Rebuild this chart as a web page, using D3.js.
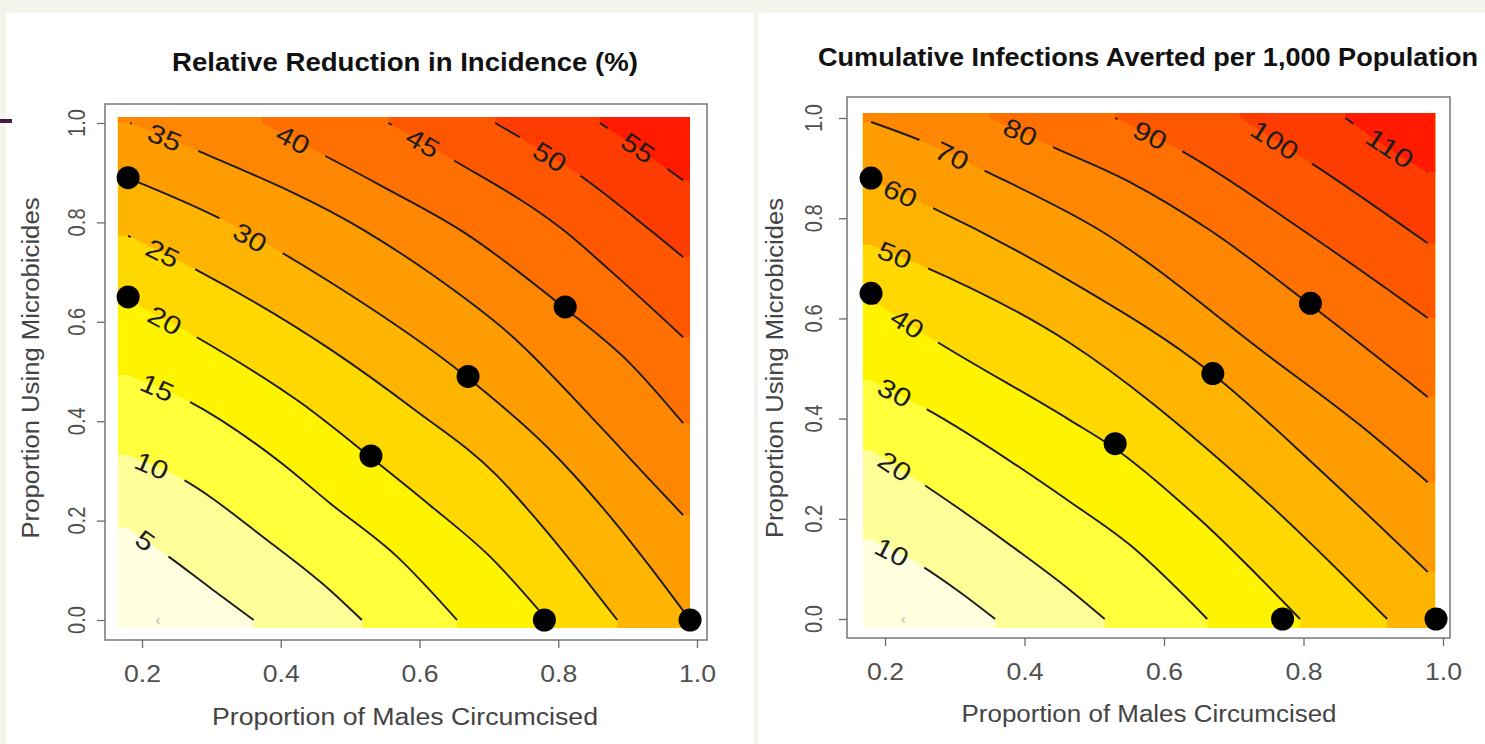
<!DOCTYPE html>
<html>
<head>
<meta charset="utf-8">
<script src="https://cdnjs.cloudflare.com/ajax/libs/d3/7.8.5/d3.min.js"></script>
<style>
    body { margin: 0; background: #f4f4ec; }
    svg { display: block; }
    text { font-family: "Liberation Sans", Arial, Helvetica, sans-serif; }
</style>
</head>
<body>
<svg id="chart" width="1485" height="744"></svg>
<script>
// values (x = males circumcised, y = using microbicides)
var tickValues = [0.2, 0.4, 0.6, 0.8, 1.0];

var reductionLevels = [5, 10, 15, 20, 25, 30, 35, 40, 45, 50, 55];
var reductionContours = [
    [[0.18, 0.185], [0.237, 0.129], [0.299, 0.064], [0.361, 0]],
    [[0.18, 0.332], [0.255, 0.286], [0.38, 0.161], [0.471, 0.06], [0.517, 0]],
    [[0.18, 0.493], [0.269, 0.439], [0.399, 0.318], [0.471, 0.235], [0.568, 0.127], [0.654, 0]],
    [[0.18, 0.644], [0.279, 0.569], [0.428, 0.438], [0.529, 0.328], [0.615, 0.231], [0.702, 0.127], [0.784, 0]],
    [[0.18, 0.773], [0.279, 0.704], [0.471, 0.545], [0.591, 0.425], [0.712, 0.29], [0.77, 0.2], [0.885, 0]],
    [[0.18, 0.889], [0.312, 0.808], [0.471, 0.68], [0.668, 0.489], [0.784, 0.348], [0.879, 0.201], [0.928, 0.115], [0.99, 0]],
    [[0.183, 1.0], [0.284, 0.942], [0.519, 0.785], [0.615, 0.698], [0.735, 0.569], [0.856, 0.396], [0.928, 0.288], [0.98, 0.211]],
    [[0.373, 1.0], [0.543, 0.875], [0.663, 0.781], [0.807, 0.63], [0.903, 0.517], [0.98, 0.396]],
    [[0.555, 1.0], [0.648, 0.926], [0.807, 0.785], [0.879, 0.698], [0.98, 0.569]],
    [[0.709, 1.0], [0.831, 0.895], [0.932, 0.785], [0.98, 0.73]],
    [[0.86, 1.0], [0.95, 0.915], [0.98, 0.885]]
];
var reductionLabelPos = [
    [0.205, 0.16], [0.214, 0.311], [0.222, 0.468], [0.233, 0.603], [0.23, 0.738], [0.356, 0.77],
    [0.233, 0.971], [0.418, 0.967], [0.605, 0.96], [0.788, 0.932], [0.915, 0.95]
];
var reductionScenarios = [[0.18, 0.89], [0.18, 0.65], [0.53, 0.33], [0.67, 0.49], [0.81, 0.63], [0.78, 0], [0.99, 0]];

var avertedLevels = [10, 20, 30, 40, 50, 60, 70, 80, 90, 100, 110];
var avertedContours = [
    [[0.18, 0.158], [0.25, 0.108], [0.305, 0.056], [0.358, 0]],
    [[0.18, 0.337], [0.257, 0.267], [0.389, 0.138], [0.465, 0.058], [0.515, 0]],
    [[0.18, 0.477], [0.257, 0.421], [0.465, 0.234], [0.551, 0.148], [0.662, 0]],
    [[0.18, 0.637], [0.275, 0.553], [0.465, 0.397], [0.53, 0.34], [0.652, 0.198], [0.795, 0]],
    [[0.18, 0.747], [0.257, 0.703], [0.465, 0.551], [0.705, 0.287], [0.92, 0]],
    [[0.18, 0.876], [0.269, 0.82], [0.465, 0.675], [0.666, 0.493], [0.824, 0.297], [0.978, 0.094]],
    [[0.18, 0.992], [0.26, 0.95], [0.341, 0.896], [0.508, 0.776], [0.752, 0.523], [0.881, 0.387], [0.978, 0.273]],
    [[0.35, 1.0], [0.441, 0.942], [0.551, 0.872], [0.666, 0.776], [0.806, 0.631], [0.978, 0.443]],
    [[0.53, 1.0], [0.623, 0.936], [0.799, 0.776], [0.978, 0.601]],
    [[0.709, 1.0], [0.809, 0.912], [0.978, 0.75]],
    [[0.86, 1.0], [0.97, 0.898], [0.978, 0.892]]
];
var avertedLabelPos = [
    [0.21, 0.134], [0.214, 0.305], [0.214, 0.452], [0.232, 0.59], [0.214, 0.727], [0.222, 0.85],
    [0.296, 0.925], [0.394, 0.972], [0.58, 0.966], [0.759, 0.956], [0.924, 0.94]
];
var avertedScenarios = [[0.18, 0.88], [0.18, 0.65], [0.53, 0.35], [0.67, 0.49], [0.81, 0.63], [0.77, 0], [0.99, 0]];

var heat = d3.scaleLinear()
    .domain([0, 0.042, 0.125, 0.208, 0.29, 0.375, 0.458, 0.54, 0.625, 0.708, 0.79, 0.875, 0.958, 1])
    .range(["#ffffee", "#ffffe0", "#ffff9a", "#ffff3c", "#fff500", "#ffd800", "#ffb400",
        "#ff9c00", "#ff8600", "#ff7000", "#ff5800", "#ff3c00", "#ff1a00", "#ff0000"]);

var svg = d3.select("#chart");
svg.append("rect").attr("width", 1485).attr("height", 744).attr("fill", "#f4f4ec");
svg.append("rect").attr("x", 6).attr("y", 13).attr("width", 748).attr("height", 731).attr("fill", "#fff");
svg.append("rect").attr("x", 758).attr("y", 13).attr("width", 727).attr("height", 731).attr("fill", "#fff");
svg.append("rect").attr("x", 0).attr("y", 119).attr("width", 12).attr("height", 4).attr("fill", "#4a1a44");

drawPanel({
    id: "left", title: "Relative Reduction in Incidence (%)",
    box: [105, 104, 707, 640], xRange: [142, 697], yRange: [620, 123],
    fill: {x0: 0.165, x1: 0.99, y0: -0.016, y1: 1.012},
    titleX: 405, titleY: 71, titleLen: 466,
    xLabelX: 405, xLabelY: 725, xLabelLen: 386,
    yLabelX: 39, yLabelY: 368, yLabelLen: 341,
    xTickY: 682, yTickX: 85,
    levels: reductionLevels, contours: reductionContours, labels: reductionLabelPos,
    dots: reductionScenarios, zeroMark: [0.223, 0]
});

drawPanel({
    id: "right", title: "Cumulative Infections Averted per 1,000 Population",
    box: [847, 97, 1450, 638], xRange: [885, 1443], yRange: [619, 118],
    fill: {x0: 0.168, x1: 0.989, y0: -0.018, y1: 1.01},
    titleX: 1148, titleY: 66, titleLen: 660,
    xLabelX: 1149, xLabelY: 722, xLabelLen: 375,
    yLabelX: 783, yLabelY: 368, yLabelLen: 340,
    xTickY: 680, yTickX: 822,
    levels: avertedLevels, contours: avertedContours, labels: avertedLabelPos,
    dots: avertedScenarios, zeroMark: [0.226, 0]
});

function drawPanel(cfg) {
    var x = d3.scaleLinear().domain([0.2, 1.0]).range(cfg.xRange);
    var y = d3.scaleLinear().domain([0, 1]).range(cfg.yRange);
    var f = cfg.fill;
    var step = cfg.levels[1] - cfg.levels[0];
    var top = step * (cfg.levels.length + 1);

    var line = d3.line()
        .x(function (d) { return x(d[0]); })
        .y(function (d) { return y(d[1]); })
        .curve(d3.curveMonotoneX);

    var defs = svg.append("defs");
    defs.append("clipPath").attr("id", "clip-" + cfg.id)
        .append("rect")
        .attr("x", x(f.x0)).attr("y", y(f.y1))
        .attr("width", x(f.x1) - x(f.x0)).attr("height", y(f.y0) - y(f.y1));

    var g = svg.append("g");

    // filled bands, lowest first
    var bands = g.append("g").attr("clip-path", "url(#clip-" + cfg.id + ")");
    bands.append("rect")
        .attr("x", x(f.x0)).attr("y", y(f.y1))
        .attr("width", x(f.x1) - x(f.x0)).attr("height", y(f.y0) - y(f.y1))
        .attr("fill", heat((step / 2) / top));

    cfg.contours.forEach(function (pts, i) {
        var s = pts[0], e = pts[pts.length - 1];
        var tail = [];
        if (e[1] <= 0.001) {
            tail.push([e[0], f.y0], [f.x1, f.y0]);
        } else {
            tail.push([f.x1, e[1]]);
        }
        tail.push([f.x1, f.y1]);
        if (s[0] <= 0.185) {
            tail.push([f.x0, f.y1], [f.x0, s[1]]);
        } else {
            tail.push([s[0], f.y1]);
        }
        var d = line(pts) + tail.map(function (p) {
            return "L" + x(p[0]) + "," + y(p[1]);
        }).join("") + "Z";
        bands.append("path")
            .attr("d", d)
            .attr("fill", heat((cfg.levels[i] + step / 2) / top));
    });

    // label positions and gaps in the lines
    var mask = defs.append("mask").attr("id", "mask-" + cfg.id)
        .attr("maskUnits", "userSpaceOnUse")
        .attr("x", 0).attr("y", 0).attr("width", 1485).attr("height", 744);
    mask.append("rect").attr("width", 1485).attr("height", 744).attr("fill", "#fff");

    var labelInfo = cfg.labels.map(function (p, i) {
        var px = x(p[0]), py = y(p[1]);
        var screen = cfg.contours[i].map(function (q) { return [x(q[0]), y(q[1])]; });
        var best = Infinity, ang = 0;
        for (var k = 0; k < screen.length - 1; k++) {
            var a = screen[k], b = screen[k + 1];
            var dx = b[0] - a[0], dy = b[1] - a[1];
            var t = Math.max(0, Math.min(1, ((px - a[0]) * dx + (py - a[1]) * dy) / (dx * dx + dy * dy)));
            var cx = a[0] + t * dx, cy = a[1] + t * dy;
            var dist = (px - cx) * (px - cx) + (py - cy) * (py - cy);
            if (dist < best) { best = dist; ang = Math.atan2(dy, dx) * 180 / Math.PI; }
        }
        var txt = String(cfg.levels[i]);
        return {x: px, y: py, angle: ang, text: txt, len: 17 * txt.length};
    });

    labelInfo.forEach(function (l) {
        var w = 16 * l.text.length + 40;
        mask.append("rect")
            .attr("x", -w / 2).attr("y", -13)
            .attr("width", w).attr("height", 26)
            .attr("fill", "#000")
            .attr("transform", "translate(" + l.x + "," + l.y + ") rotate(" + l.angle + ")");
    });

    g.append("g")
        .attr("mask", "url(#mask-" + cfg.id + ")")
        .selectAll("path")
        .data(cfg.contours)
        .enter().append("path")
        .attr("d", line)
        .attr("fill", "none")
        .attr("stroke", "#1c1c1c")
        .attr("stroke-width", 1.9);

    g.append("g").selectAll("text")
        .data(labelInfo)
        .enter().append("text")
        .attr("transform", function (l) {
            return "translate(" + l.x + "," + l.y + ") rotate(" + l.angle + ")";
        })
        .attr("text-anchor", "middle")
        .attr("dy", "0.36em")
        .attr("font-size", 26)
        .attr("textLength", function (l) { return l.len; })
        .attr("lengthAdjust", "spacingAndGlyphs")
        .attr("fill", "#1e1e1e")
        .text(function (l) { return l.text; });

    g.append("text")
        .attr("x", x(cfg.zeroMark[0])).attr("y", y(cfg.zeroMark[1]) + 5)
        .attr("text-anchor", "middle")
        .attr("font-size", 15)
        .attr("fill", "#b5b5b5")
        .text("‹");

    g.append("g").selectAll("circle")
        .data(cfg.dots)
        .enter().append("circle")
        .attr("cx", function (d) { return x(d[0]); })
        .attr("cy", function (d) { return y(d[1]); })
        .attr("r", 11.5)
        .attr("fill", "#000");

    // frame and axes
    var b = cfg.box;
    g.append("rect")
        .attr("x", b[0]).attr("y", b[1])
        .attr("width", b[2] - b[0]).attr("height", b[3] - b[1])
        .attr("fill", "none")
        .attr("stroke", "#777")
        .attr("stroke-width", 1.5);

    var xAxis = g.append("g")
        .attr("transform", "translate(0," + b[3] + ")")
        .call(d3.axisBottom(x).tickValues(tickValues).tickSize(8).tickFormat(d3.format(".1f")));
    xAxis.select(".domain").remove();
    xAxis.selectAll("line").attr("stroke", "#6a6a6a").attr("stroke-width", 1.3);
    xAxis.selectAll("text")
        .attr("y", cfg.xTickY - b[3])
        .attr("dy", 0)
        .attr("font-size", 23)
        .attr("font-family", null)
        .attr("fill", "#505050")
        .attr("textLength", 37)
        .attr("lengthAdjust", "spacingAndGlyphs");

    var yAxis = g.append("g")
        .attr("transform", "translate(" + b[0] + ",0)")
        .call(d3.axisLeft(y).tickValues([0, 0.2, 0.4, 0.6, 0.8, 1.0]).tickSize(8).tickFormat(""));
    yAxis.select(".domain").remove();
    yAxis.selectAll("line").attr("stroke", "#6a6a6a").attr("stroke-width", 1.3);

    g.append("g").selectAll("text")
        .data([0, 0.2, 0.4, 0.6, 0.8, 1.0])
        .enter().append("text")
        .attr("transform", function (v) {
            return "translate(" + cfg.yTickX + "," + y(v) + ") rotate(-90)";
        })
        .attr("text-anchor", "middle")
        .attr("font-size", 23)
        .attr("fill", "#505050")
        .attr("textLength", 28)
        .attr("lengthAdjust", "spacingAndGlyphs")
        .text(d3.format(".1f"));

    g.append("text")
        .attr("x", cfg.titleX).attr("y", cfg.titleY)
        .attr("text-anchor", "middle")
        .attr("font-size", 25)
        .attr("font-weight", "bold")
        .attr("fill", "#111")
        .attr("textLength", cfg.titleLen)
        .attr("lengthAdjust", "spacingAndGlyphs")
        .text(cfg.title);

    g.append("text")
        .attr("x", cfg.xLabelX).attr("y", cfg.xLabelY)
        .attr("text-anchor", "middle")
        .attr("font-size", 23)
        .attr("fill", "#444")
        .attr("textLength", cfg.xLabelLen)
        .attr("lengthAdjust", "spacingAndGlyphs")
        .text("Proportion of Males Circumcised");

    g.append("text")
        .attr("transform", "translate(" + cfg.yLabelX + "," + cfg.yLabelY + ") rotate(-90)")
        .attr("text-anchor", "middle")
        .attr("font-size", 23)
        .attr("fill", "#444")
        .attr("textLength", cfg.yLabelLen)
        .attr("lengthAdjust", "spacingAndGlyphs")
        .text("Proportion Using Microbicides");
}
</script>
</body>
</html>
